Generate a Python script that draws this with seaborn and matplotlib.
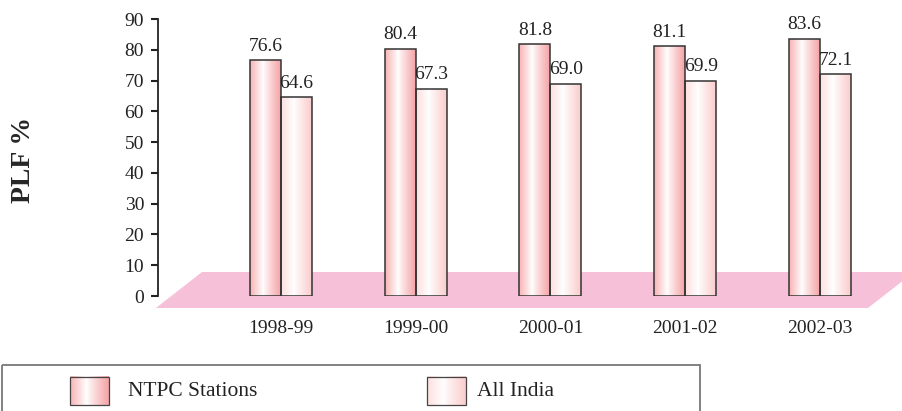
import numpy as np
import pandas as pd
import matplotlib
matplotlib.use("Agg")
import matplotlib.pyplot as plt
from matplotlib.patches import Polygon, Rectangle
from matplotlib.colors import to_rgb
import seaborn as sns

# data
years = ["1998-99", "1999-00", "2000-01", "2001-02", "2002-03"]
ntpc = [76.6, 80.4, 81.8, 81.1, 83.6]
all_india = [64.6, 67.3, 69.0, 69.9, 72.1]
series = ["NTPC Stations", "All India"]
yticks = list(range(0, 100, 10))

# cylinder-ish shading per series: (left edge, right edge)
shades = {
    "NTPC Stations": ("#f8b4b6", "#f5a3a6"),
    "All India": ("#fde0df", "#fbcdcd"),
}
floor_color = "#f6c0d9"
serif = ["Liberation Serif", "DejaVu Serif"]

df = pd.DataFrame({
    "year": years * 2,
    "plf": ntpc + all_india,
    "series": [series[0]] * len(years) + [series[1]] * len(years),
})


def gradient(left, right, n=96, mid=0.42):
    t = np.linspace(0, 1, n)
    w = np.where(t < mid, (mid - t) / mid, (t - mid) / (1 - mid)) ** 0.9
    white = np.ones(3)
    cols = np.empty((1, n, 3))
    for i, ti in enumerate(t):
        edge = np.array(to_rgb(left if ti < mid else right))
        cols[0, i] = white * (1 - w[i]) + edge * w[i]
    return cols


def shaded_rect(ax, patch, grad, zorder=2.5):
    x0, y0 = patch.get_x(), patch.get_y()
    w, h = patch.get_width(), patch.get_height()
    im = ax.imshow(grad, extent=(x0, x0 + w, y0, y0 + h), aspect="auto",
                   interpolation="bilinear", zorder=zorder)
    im.set_clip_path(patch)


sns.set_style("ticks")
plt.rcParams["font.family"] = serif

fig = plt.figure(figsize=(9.02, 4.11), dpi=100)
W, H = 902, 411
ax = fig.add_axes([158 / W, (H - 296) / H, (902 - 158) / W, (296 - 19) / H])

sns.barplot(data=df, x="year", y="plf", hue="series", hue_order=series,
            width=0.46, gap=0, dodge=True, legend=False, ax=ax,
            edgecolor="#333333", linewidth=1.1, saturation=1, zorder=3)

for cont, name in zip(ax.containers, series):
    g = gradient(*shades[name])
    for p in cont:
        p.set_facecolor("none")
        p.set_edgecolor("#333333")
        p.set_zorder(3)
        shaded_rect(ax, p, g)
    ax.bar_label(cont, fmt="%.1f", padding=4, fontsize=14, color="#222222")

# pink floor under the bars
floor = Polygon([(-0.928, -3.9), (-0.586, 7.8), (4.70, 7.8), (4.356, -3.9)],
                closed=True, facecolor=floor_color, edgecolor="none",
                zorder=1, clip_on=False)
ax.add_patch(floor)

ax.set_xlim(-0.913, 4.609)
ax.set_ylim(0, 90)
ax.set_yticks(yticks)
ax.set_xlabel("")
ax.set_ylabel("")
for s in ["top", "right", "bottom"]:
    ax.spines[s].set_visible(False)
ax.spines["left"].set_bounds(0, 90)
ax.spines["left"].set_linewidth(1.3)
ax.spines["left"].set_color("#222222")
ax.tick_params(axis="y", length=5, width=1.5, pad=5, labelsize=14,
               colors="#222222")
ax.tick_params(axis="x", length=0, pad=17, labelsize=14, colors="#222222")

fig.text(23 / W, 1 - 160 / H, "PLF %", rotation=90, ha="center", va="center",
         fontsize=20, fontweight="bold", family=serif)

# legend box
lax = fig.add_axes([0, 0, 1, 1], facecolor="none")
lax.set_xlim(0, W)
lax.set_ylim(H, 0)
lax.axis("off")
lax.add_patch(Rectangle((2, 365), 698, 60, facecolor="none",
                        edgecolor="#777777", linewidth=1.3))
for name, px, tx in [(series[0], 70, 128), (series[1], 427, 477)]:
    sw = Rectangle((px, 377), 39, 28, facecolor="none",
                   edgecolor="#444444", linewidth=0.9, zorder=4)
    lax.add_patch(sw)
    lax.imshow(gradient(*shades[name]), extent=(px, px + 39, 405, 377),
               aspect="auto", interpolation="bilinear", zorder=3)
    lax.text(tx, 391, name, ha="left", va="center", fontsize=15.5,
             color="#222222")
lax.set_xlim(0, W)
lax.set_ylim(H, 0)

fig.savefig("out.png", dpi=100)
